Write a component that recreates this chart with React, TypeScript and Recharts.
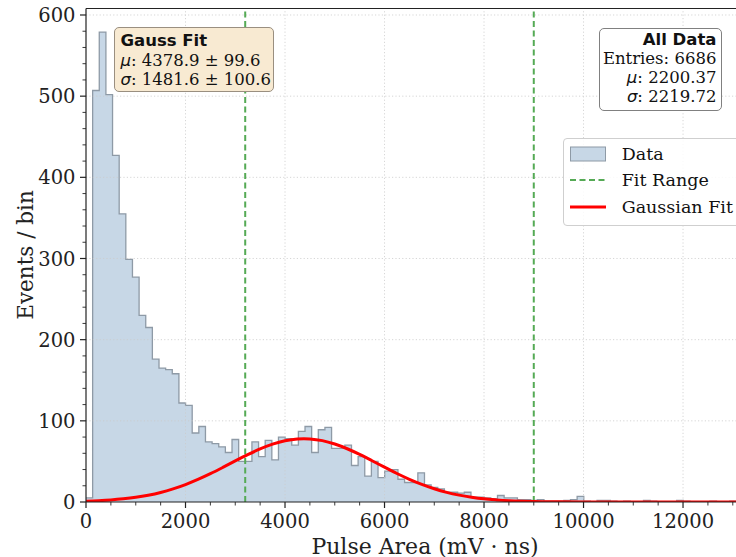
import React from 'react';
import { ComposedChart, Area, Line, XAxis, YAxis, ReferenceLine } from 'recharts';

// ---- data ----
const binWidth = 133.4;
const counts = [
  5, 507, 579, 502, 427, 355, 299, 277, 230, 215,
  176, 165, 163, 158, 122, 119, 85, 93, 74, 72,
  68, 61, 77, 50, 50, 74, 56, 76, 52, 80,
  78, 70, 87, 93, 61, 89, 92, 66, 66, 70,
  45, 56, 32, 50, 30, 38, 40, 28, 24, 24,
  36, 21, 18, 16, 12, 12, 11, 12, 6, 6,
  5, 4, 8, 5, 5, 3, 3, 2, 3, 1,
  1, 1, 2, 3, 7, 1, 0, 2, 2, 1,
  0, 1, 0, 0, 2, 1, 0, 0, 0, 2,
  1, 0, 0, 0, 1, 0, 0, 1, 0, 1,
];
const fitX = [0, 250, 500, 750, 1000, 1250, 1500, 1750, 2000, 2250, 2500, 2750, 3000, 3250, 3500, 3750, 4000, 4250, 4379, 4500, 4750, 5000, 5250, 5500, 5750, 6000, 6250, 6500, 6750, 7000, 7250, 7500, 7750, 8000, 8250, 8500, 8750, 9000, 9500, 10000, 11000, 12000, 13340];
const fitY = [1.0, 1.6, 2.5, 3.9, 5.8, 8.4, 11.8, 16.2, 21.5, 27.8, 34.9, 42.6, 50.6, 58.3, 65.4, 71.3, 75.5, 77.7, 78, 77.7, 75.6, 71.4, 65.6, 58.6, 50.8, 42.9, 35.1, 28, 21.7, 16.3, 11.9, 8.5, 5.9, 3.9, 2.6, 1.6, 1.0, 0.6, 0.25, 0.1, 0, 0, 0];
const fitRange = [3200, 9000];
const xMajor = [0, 2000, 4000, 6000, 8000, 10000, 12000];
const yMajor = [0, 100, 200, 300, 400, 500, 600];
const xMinorStep = 500;
const yMinorStep = 20;
const xMax = 13340;
const yMax = 608;

const gaussStats = { mu: '4378.9 ± 99.6', sigma: '1481.6 ± 100.6' };
const allStats = { entries: '6686', mu: '2200.37', sigma: '2219.72' };
const legendItems = ['Data', 'Fit Range', 'Gaussian Fit'];

// ---- derived tables ----
const histData = counts.map((c, i) => ({ x: i * binWidth, y: c }));
histData.push({ x: counts.length * binWidth, y: counts[counts.length - 1] });
const fitData = fitX.map((x, i) => ({ x, y: fitY[i] }));
const xTicks: number[] = [];
for (let v = 0; v <= 13000; v += xMinorStep) xTicks.push(v);
const yTicks: number[] = [];
for (let v = 0; v <= 600; v += yMinorStep) yTicks.push(v);

const AX = '#222';
const SERIF = 'DejaVu Serif';
const SANS = 'DejaVu Sans';

const XTick = (props: any) => {
  const { x, y, payload } = props;
  const v = payload.value;
  const major = xMajor.includes(v);
  return (
    <g>
      <line x1={x} x2={x} y1={y} y2={y + (major ? 6 : 3.5)} stroke={AX} strokeWidth={major ? 1.2 : 0.9} />
      {major && (
        <text x={x} y={y + 26} textAnchor="middle" fontFamily={SERIF} fontSize={19.5} fill={AX}>
          {v}
        </text>
      )}
    </g>
  );
};

const YTick = (props: any) => {
  const { x, y, payload } = props;
  const v = payload.value;
  const major = yMajor.includes(v);
  return (
    <g>
      <line x1={x - (major ? 6 : 3.5)} x2={x} y1={y} y2={y} stroke={AX} strokeWidth={major ? 1.2 : 0.9} />
      {major && (
        <text x={x - 10.5} y={y} dy="0.36em" textAnchor="end" fontFamily={SERIF} fontSize={19.5} fill={AX}>
          {v}
        </text>
      )}
    </g>
  );
};

const MathSym = ({ s }: { s: string }) => (
  <i style={{ fontFamily: SANS, fontStyle: 'italic' }}>{s}</i>
);

export default function App() {
  return (
    <div
      style={{
        position: 'absolute',
        left: 0,
        top: 0,
        width: 736,
        height: 557,
        overflow: 'hidden',
        background: '#fff',
      }}
    >
      <ComposedChart width={760} height={557} margin={{ top: 8.5, right: 10.3, bottom: 0, left: 0 }}>
        <XAxis
          type="number"
          dataKey="x"
          domain={[0, xMax]}
          ticks={xTicks}
          interval={0}
          allowDataOverflow
          height={55}
          tickSize={0}
          tickMargin={0}
          tickLine={false}
          tick={<XTick />}
          axisLine={{ stroke: AX, strokeWidth: 1.2 }}
        />
        <YAxis
          type="number"
          domain={[0, yMax]}
          ticks={yTicks}
          interval={0}
          allowDataOverflow
          width={86}
          tickSize={0}
          tickMargin={0}
          tickLine={false}
          tick={<YTick />}
          axisLine={{ stroke: AX, strokeWidth: 1.2 }}
        />
        {xMajor.slice(1).map((v) => (
          <ReferenceLine key={'gx' + v} x={v} stroke="#cccccc" strokeWidth={0.8} strokeDasharray="1.2 2.2" />
        ))}
        {yMajor.slice(1).map((v) => (
          <ReferenceLine key={'gy' + v} y={v} stroke="#cccccc" strokeWidth={0.8} strokeDasharray="1.2 2.2" />
        ))}
        <Area
          data={histData}
          dataKey="y"
          type="stepAfter"
          fill="#c7d7e6"
          fillOpacity={1}
          stroke="#8e9aa6"
          strokeWidth={1.3}
          isAnimationActive={false}
          dot={false}
          activeDot={false}
        />
        {fitRange.map((v) => (
          <ReferenceLine key={'fr' + v} x={v} stroke="#55aa55" strokeWidth={2} strokeDasharray="6 3.5" />
        ))}
        <Line
          data={fitData}
          dataKey="y"
          type="monotone"
          stroke="#ff0000"
          strokeWidth={3}
          dot={false}
          activeDot={false}
          isAnimationActive={false}
        />
        <ReferenceLine y={yMax} stroke={AX} strokeWidth={1.2} />
      </ComposedChart>

      {/* Y axis title */}
      <div
        style={{
          position: 'absolute',
          left: 25,
          top: 255,
          transform: 'translate(-50%, -50%) rotate(-90deg)',
          fontFamily: SERIF,
          fontSize: 21.5,
          whiteSpace: 'nowrap',
          color: AX,
        }}
      >
        Events / bin
      </div>
      {/* X axis title */}
      <div
        style={{
          position: 'absolute',
          left: 425,
          top: 546,
          transform: 'translate(-50%, -50%)',
          fontFamily: SERIF,
          fontSize: 22,
          whiteSpace: 'nowrap',
          color: AX,
        }}
      >
        Pulse Area (mV · ns)
      </div>

      {/* Gauss fit box */}
      <div
        style={{
          position: 'absolute',
          left: 114,
          top: 27,
          width: 160,
          height: 65,
          boxSizing: 'border-box',
          background: '#f8ead2',
          border: '1.2px solid #9a8f80',
          borderRadius: 5,
          padding: '3px 0 0 5.5px',
          fontFamily: SERIF,
          fontSize: 16.5,
          lineHeight: '19.5px',
          color: '#111',
          whiteSpace: 'nowrap',
        }}
      >
        <div style={{ fontFamily: SANS, fontWeight: 'bold' }}>Gauss Fit</div>
        <div>
          <MathSym s="μ" />: {gaussStats.mu}
        </div>
        <div>
          <MathSym s="σ" />: {gaussStats.sigma}
        </div>
      </div>

      {/* All data box */}
      <div
        style={{
          position: 'absolute',
          left: 599,
          top: 28,
          width: 123,
          height: 83,
          boxSizing: 'border-box',
          background: '#ffffff',
          border: '1.2px solid #808080',
          borderRadius: 5,
          padding: '2px 4.6px 0 0',
          textAlign: 'right',
          fontFamily: SERIF,
          fontSize: 16.5,
          lineHeight: '18.9px',
          color: '#111',
          whiteSpace: 'nowrap',
        }}
      >
        <div style={{ fontFamily: SANS, fontWeight: 'bold' }}>All Data</div>
        <div>Entries: {allStats.entries}</div>
        <div>
          <MathSym s="μ" />: {allStats.mu}
        </div>
        <div>
          <MathSym s="σ" />: {allStats.sigma}
        </div>
      </div>

      {/* Legend */}
      <div
        style={{
          position: 'absolute',
          left: 563,
          top: 138,
          width: 200,
          height: 88,
          boxSizing: 'border-box',
          background: 'rgba(255,255,255,0.85)',
          border: '1px solid #cfcfcf',
          borderRadius: 4,
          padding: '1.7px 0 0 6px',
          fontFamily: SERIF,
          fontSize: 17.5,
          lineHeight: '26.5px',
          color: '#111',
          whiteSpace: 'nowrap',
        }}
      >
        {legendItems.map((label, i) => (
          <div key={label} style={{ display: 'flex', alignItems: 'center', height: 26.5 }}>
            <svg width={36} height={16} style={{ marginRight: 15.7, flex: 'none' }}>
              {i === 0 && <rect x={0.5} y={1} width={35} height={14} fill="#c7d7e6" stroke="#8e9aa6" strokeWidth={1} />}
              {i === 1 && <line x1={0} x2={36} y1={8} y2={8} stroke="#55aa55" strokeWidth={2} strokeDasharray="6 3.5" />}
              {i === 2 && <line x1={0} x2={36} y1={8} y2={8} stroke="#ff0000" strokeWidth={3} />}
            </svg>
            <span>{label}</span>
          </div>
        ))}
      </div>
    </div>
  );
}
